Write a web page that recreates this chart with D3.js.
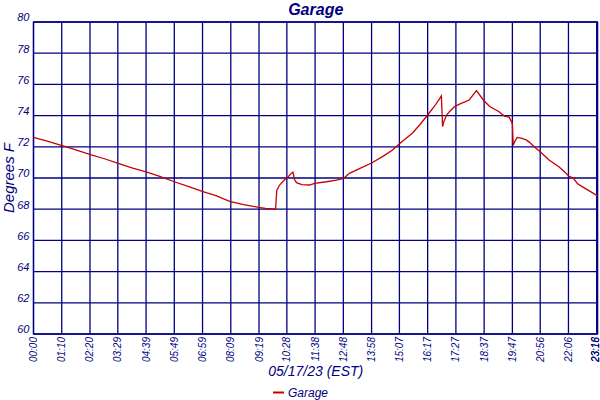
<!DOCTYPE html>
<html>
<head>
<meta charset="utf-8">
<script src="https://cdn.jsdelivr.net/npm/d3@7"></script>
<style>
  body { margin: 0; background: #fff; }
  text { font-family: "Liberation Sans", Arial, sans-serif; font-style: italic; fill: #000080; }
</style>
</head>
<body>
<div class="chart"></div>
<script>
// minutes after midnight and temperature (deg F)
const minutes = [0, 36, 71, 105, 141, 174, 210, 244, 279, 313, 349, 385, 420, 454, 486, 521, 558, 575, 600,
    603, 610, 623, 629, 637, 643, 647, 652, 665, 684, 697, 726, 751, 769, 783, 808, 838, 870, 890, 907,
    939, 957, 977, 994, 1006, 1011, 1014, 1017, 1024, 1031, 1043, 1056, 1080, 1098, 1115, 1130, 1154,
    1167, 1179, 1187, 1189, 1194, 1199, 1209, 1221, 1229, 1241, 1254, 1278, 1303, 1316, 1328, 1338,
    1348, 1360, 1385, 1398];
const temps = [72.6, 72.35, 72.07, 71.8, 71.5, 71.25, 70.94, 70.65, 70.4, 70.1, 69.76, 69.45, 69.12, 68.85,
    68.5, 68.3, 68.12, 68.05, 68.0,
    69.2, 69.55, 69.9, 70.0, 70.25, 70.37, 69.9, 69.7, 69.58, 69.55, 69.66, 69.76, 69.87, 69.98, 70.3,
    70.6, 70.96, 71.45, 71.8, 72.2, 72.87, 73.4, 74.04, 74.6, 75.06, 75.26, 73.3, 73.6, 74.04, 74.25,
    74.57, 74.74, 75.0, 75.6, 75.0, 74.6, 74.25, 73.97, 73.9, 73.5, 72.1, 72.4, 72.6, 72.55, 72.44,
    72.3, 72.0, 71.73, 71.15, 70.7, 70.4, 70.1, 70.0, 69.65, 69.45, 69.06, 68.85];

const tickMinutes = [0, 70, 140, 209, 279, 349, 419, 489, 559, 628, 698, 768, 838, 907, 977, 1047, 1117,
    1187, 1256, 1326, 1396, 1398];
const tickLabels = ["00:00", "01:10", "02:20", "03:29", "04:39", "05:49", "06:59", "08:09", "09:19", "10:28",
    "11:38", "12:48", "13:58", "15:07", "16:17", "17:27", "18:37", "19:47", "20:56", "22:06", "23:16", "23:18"];
const yTicks = [60, 62, 64, 66, 68, 70, 72, 74, 76, 78, 80];

const seriesName = "Garage";
const chartTitle = "Garage";
const xTitle = "05/17/23 (EST)";
const yTitle = "Degrees F";

const Margin = {top: 22, right: 2, bottom: 66, left: 33.5},
    Width = 600 - Margin.left - Margin.right,
    Height = 400 - Margin.top - Margin.bottom;

const navy = "#000080";

let data = minutes.map((m, i) => ({m: m, t: temps[i]}));

let svg = d3.select(".chart")
    .append("svg")
    .attr("width", 600)
    .attr("height", 400);

let g = svg.append("g")
    .attr("transform", "translate(" + Margin.left + "," + Margin.top + ")");

let x = d3.scaleLinear().domain([0, 1398]).range([0, Width - 0.5]);
let y = d3.scaleLinear().domain([60, 80]).range([Height, 0]);

// grid
g.selectAll(".vgrid")
    .data(tickMinutes)
    .enter().append("line")
    .attr("x1", d => x(d)).attr("x2", d => x(d))
    .attr("y1", 0).attr("y2", Height)
    .attr("stroke", navy).attr("stroke-width", 1.3);

g.selectAll(".hgrid")
    .data(yTicks)
    .enter().append("line")
    .attr("x1", 0).attr("x2", Width - 0.5)
    .attr("y1", d => y(d)).attr("y2", d => y(d))
    .attr("stroke", navy).attr("stroke-width", 1.3);

g.append("rect")
    .attr("x", 0).attr("y", 0)
    .attr("width", Width - 0.5).attr("height", Height)
    .attr("fill", "none").attr("stroke", navy).attr("stroke-width", 1.3);

// y tick labels
g.selectAll(".ylab")
    .data(yTicks)
    .enter().append("text")
    .attr("x", -4)
    .attr("y", d => y(d))
    .attr("dy", "-0.05em")
    .attr("text-anchor", "end")
    .style("font-size", "11px")
    .text(d => d);

// x tick labels, rotated (keep the crowded last ones inside the page)
g.selectAll(".xlab")
    .data(tickMinutes)
    .enter().append("text")
    .attr("transform", d => "translate(" + Math.min(x(d), Width - 3) + "," + (Height + 3) + ") rotate(-90)")
    .attr("dy", "0.35em")
    .attr("text-anchor", "end")
    .style("font-size", "10px")
    .text((d, i) => tickLabels[i]);

// the temperature line
let line = d3.line().x(d => x(d.m)).y(d => y(d.t));
g.append("path")
    .datum(data)
    .attr("d", line)
    .attr("fill", "none")
    .attr("stroke", "#c80000")
    .attr("stroke-width", 1.3);

// titles
svg.append("text")
    .attr("x", Margin.left + Width / 2)
    .attr("y", 15)
    .attr("text-anchor", "middle")
    .style("font-size", "16px")
    .style("font-weight", "bold")
    .text(chartTitle);

svg.append("text")
    .attr("transform", "translate(14," + (Margin.top + Height / 2) + ") rotate(-90)")
    .attr("text-anchor", "middle")
    .style("font-size", "15px")
    .text(yTitle);

svg.append("text")
    .attr("x", Margin.left + Width / 2)
    .attr("y", 376)
    .attr("text-anchor", "middle")
    .style("font-size", "14px")
    .text(xTitle);

// legend
svg.append("line")
    .attr("x1", 273).attr("x2", 284)
    .attr("y1", 392.5).attr("y2", 392.5)
    .attr("stroke", "#c80000").attr("stroke-width", 2);

svg.append("text")
    .attr("x", 288)
    .attr("y", 396.5)
    .style("font-size", "12px")
    .text(seriesName);
</script>
</body>
</html>
